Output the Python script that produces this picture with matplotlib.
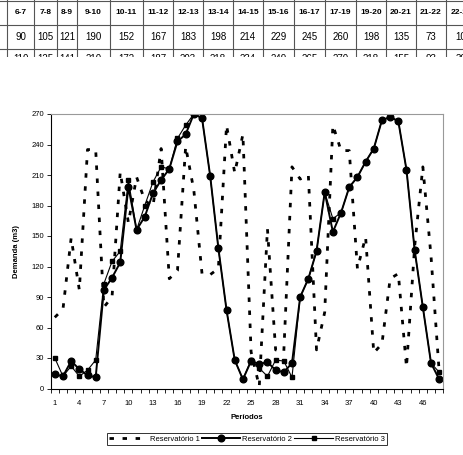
import matplotlib
matplotlib.use("Agg")
import matplotlib.pyplot as plt

plt.rcParams["font.family"] = ["Liberation Sans", "DejaVu Sans"]

# demanda por periodo (m3)
periodos = list(range(1, 49))
res1 = [70, 78, 148, 97, 235, 235, 80, 90, 213, 163, 208, 185, 179, 236, 108, 116,
        238, 195, 113, 112, 118, 259, 212, 250, 36, 2, 157, 38, 36, 218, 206, 210,
        38, 75, 259, 234, 234, 118, 149, 35, 44, 108, 113, 21, 140, 218, 130, 16]
res2 = [14, 12, 27, 19, 13, 11, 97, 109, 124, 198, 156, 169, 192, 205, 216, 243,
        250, 270, 266, 209, 138, 77, 28, 9, 27, 24, 26, 18, 16, 25, 90, 108,
        135, 193, 154, 173, 198, 208, 223, 236, 264, 267, 263, 215, 136, 80, 25, 9]
res3 = [30, 12, 22, 12, 18, 28, 103, 125, 135, 205, 156, 180, 203, 218, 216, 246,
        259, 270, 266, 209, 138, 77, 28, 9, 28, 20, 12, 28, 27, 11, 90, 108,
        135, 193, 167, 173, 198, 208, 223, 236, 264, 267, 263, 215, 136, 80, 25, 16]

# pedaco da tabela que aparece em cima
horas = ["5-6", "6-7", "7-8", "8-9", "9-10", "10-11", "11-12", "12-13", "13-14", "14-15",
         "15-16", "16-17", "17-19", "19-20", "20-21", "21-22", "22-23"]
linha1 = ["", "90", "105", "121", "190", "152", "167", "183", "198", "214", "229",
          "245", "260", "198", "135", "73", "10"]
linha2 = ["", "110", "125", "141", "210", "172", "187", "203", "218", "234", "249",
          "265", "270", "218", "155", "93", "30"]

fig = plt.figure(figsize=(4.63, 4.55), dpi=100)

# tabela (em pixels da figura), cortada em baixo como na imagem
tab = fig.add_axes([0, 1 - 57 / 455, 1, 57 / 455])
tab.set_xlim(0, 463)
tab.set_ylim(57, 0)
tab.axis("off")
bordas = [-20, 7, 34, 57, 77, 110, 143, 173, 203, 233, 263, 294, 325, 356, 386, 416, 446, 476]
linhas_y = [1, 25, 49]
for xb in bordas:
    tab.plot([xb, xb], [0, 60], color="#555555", lw=0.8)
for yb in linhas_y:
    tab.plot([0, 463], [yb, yb], color="#555555", lw=0.8)
for i in range(len(horas)):
    xc = (bordas[i] + bordas[i + 1]) / 2
    tab.text(xc, 13, horas[i], ha="center", va="center", fontsize=6, fontweight="bold", clip_on=True)
    tab.text(xc, 37, linha1[i], ha="center", va="center", fontsize=7, clip_on=True)
    tab.text(xc, 59, linha2[i], ha="center", va="center", fontsize=7, clip_on=True)

ax = fig.add_axes([50.7 / 463, 1 - 388.5 / 455, (443.3 - 50.7) / 463, (388.5 - 114) / 455])
ax.plot(periodos, res1, color="black", lw=2, linestyle=(0, (1.6, 3.1)), label="Reservatório 1")
ax.plot(periodos, res2, color="black", lw=1.4, marker="o", markersize=4.8, label="Reservatório 2")
ax.plot(periodos, res3, color="black", lw=0.8, marker="s", markersize=2.2, label="Reservatório 3")

ax.set_xlim(0.5, 48.5)
ax.set_ylim(0, 270)
ax.set_xticks(range(1, 49, 3))
ax.set_xticks([p + 0.5 for p in range(0, 49)], minor=True)
ax.tick_params(axis="x", which="major", length=0, labelsize=5.5, pad=8)
ax.tick_params(axis="x", which="minor", length=3, width=0.6)
ax.set_yticks(range(0, 271, 30))
ax.tick_params(axis="y", length=3, width=0.6, labelsize=5.5, pad=2)
for lado in ["top", "right"]:
    ax.spines[lado].set_color("#999999")
for lado in ["left", "bottom"]:
    ax.spines[lado].set_linewidth(0.8)
ax.set_xlabel("Períodos", fontsize=5.5, fontweight="bold", labelpad=5)
ax.set_ylabel("Demanda (m3)", fontsize=5.5, fontweight="bold", labelpad=8)

leg = fig.legend(loc="center", bbox_to_anchor=(247 / 463, 1 - 439 / 455), ncol=3,
                 fontsize=5.5, frameon=True, fancybox=False, edgecolor="black",
                 handlelength=5, columnspacing=0.3, handletextpad=0.3,
                 borderpad=0.3)
leg.get_frame().set_linewidth(0.7)

fig.savefig("out.png", dpi=100)
